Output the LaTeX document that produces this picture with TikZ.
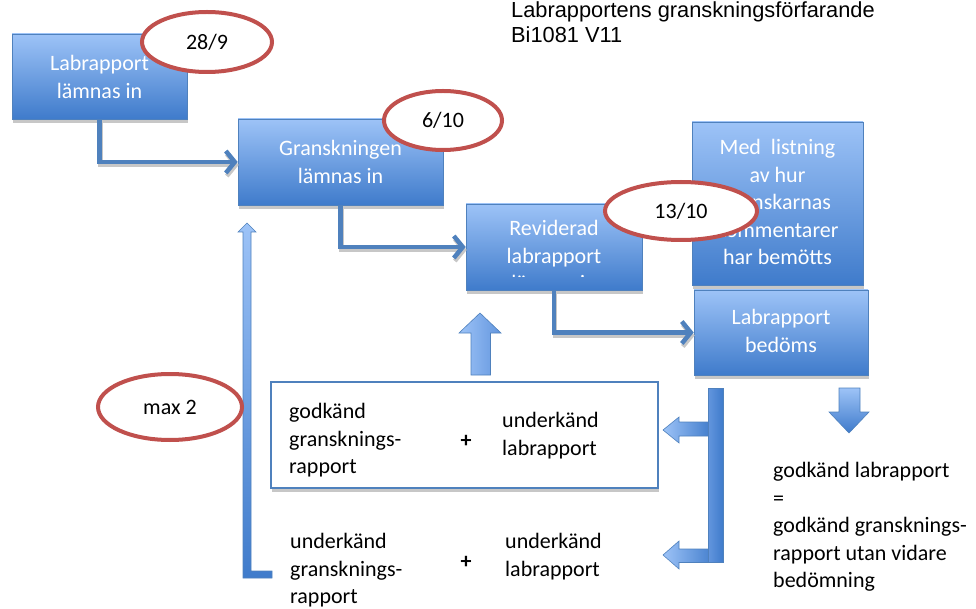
\documentclass[tikz,border=0pt]{standalone}
\usepackage{fontspec}
\setmainfont{Carlito}
\newfontfamily\titlefont{Liberation Sans}
\usetikzlibrary{arrows.meta,shapes.geometric,shadows}
\definecolor{accent}{HTML}{4F81BD}
\definecolor{boxtop}{HTML}{9DC3F7}
\definecolor{boxbot}{HTML}{3F7BCB}
\definecolor{barlight}{HTML}{6396DE}
\definecolor{ovalred}{HTML}{C0504D}
\begin{document}
\begin{tikzpicture}[x=1pt,y=-1pt,
  stepbox/.style={rectangle, draw=accent, line width=0.6pt, top color=boxtop, bottom color=boxbot,
    inner sep=0pt, drop shadow={shadow xshift=1pt,shadow yshift=-4pt,fill=black!22,opacity=1}},
  boxtext/.style={text=white, font=\fontsize{22}{27.5}\selectfont, align=center, inner sep=0pt, anchor=north},
  plaintext/.style={text=black, font=\fontsize{22}{27.5}\selectfont, align=left, inner sep=0pt, anchor=north west},
  oval/.style={ellipse, draw=ovalred, line width=4pt, fill=white, inner sep=0pt,
    font=\fontsize{22}{27}\selectfont},
  conn/.style={draw=accent, line width=4.5pt, line join=miter,
    -{Straight Barb[length=9pt,width=22pt,line width=4.5pt]}},
  connshadow/.style={draw=black!22, line width=4.5pt, line join=miter,
    transform canvas={xshift=1pt,yshift=-3pt},
    -{Straight Barb[length=9pt,width=22pt,line width=4.5pt]}},
  blockarrow/.style={draw=accent, line width=0.6pt},
]
\useasboundingbox (0,0) rectangle (976,609);

% title
\node[font=\titlefont\fontsize{21.8}{25}\selectfont, align=left, inner sep=0pt, anchor=north west]
  (title) at (511,2) {Labrapportens granskningsförfarande\\Bi1081 V11};

% boxes
\node[stepbox, minimum width=175, minimum height=85] (b1) at (99.5,76.5) {};
\node[stepbox, minimum width=205, minimum height=86] (b2) at (340.5,162) {};
\node[stepbox, minimum width=176, minimum height=86] (b3) at (554,247) {};
\node[stepbox, minimum width=171, minimum height=163] (b4) at (777.5,203.5) {};
\node[stepbox, minimum width=174, minimum height=85] (b5) at (781,332.5) {};
\node[rectangle, draw=accent, line width=1.5pt, fill=white, inner sep=0pt,
  minimum width=387, minimum height=106,
  drop shadow={shadow xshift=1pt,shadow yshift=-4pt,fill=black!22,opacity=1}] (b6) at (464.5,435) {};

% box texts
\node[boxtext] (t1) at (99.5,55.5) {Labrapport\\lämnas in};
\node[boxtext] (t2) at (340.5,140.5) {Granskningen\\lämnas in};
\begin{scope}
  \clip (466,204) rectangle (642,277);
  \node[boxtext] (t3) at (554,220.5) {Reviderad\\labrapport\\lämnas in};
\end{scope}
\node[boxtext] (t4) at (777.5,139.5) {Med\ \ listning\\av hur\\granskarnas\\kommentarer\\har bemötts};
\node[boxtext] (t5) at (781,309.5) {Labrapport\\bedöms};

% connectors
\draw[connshadow] (b1.south) |- (b2.west);
\draw[conn] (b1.south) |- (b2.west);
\draw[connshadow] (b2.south) |- (b3.west);
\draw[conn] (b2.south) |- (b3.west);
\draw[connshadow] (b3.south) |- (b5.west);
\draw[conn] (b3.south) |- (b5.west);

% up block arrow under b3
\shadedraw[blockarrow, left color=boxtop, right color=barlight]
  (480,313) -- (501,333) -- (490.5,333) -- (490.5,375) -- (471,375) -- (471,333) -- (459,333) -- cycle;

% down block arrow at right
\shadedraw[blockarrow, top color=boxtop, bottom color=boxbot]
  (839,388) -- (860,388) -- (860,412) -- (869,412) -- (849,433) -- (829,412) -- (839,412) -- cycle;

% right bracket with two arrows
\shadedraw[blockarrow, left color=boxtop, right color=boxbot]
  (663,430) -- (679,417) -- (679,422) -- (712,422) -- (712,436) -- (679,436) -- (679,443) -- cycle;
\shadedraw[blockarrow, left color=boxtop, right color=boxbot]
  (663,555) -- (679,541) -- (679,549) -- (716,549) -- (716,562.5) -- (679,562.5) -- (679,569) -- cycle;
\shadedraw[blockarrow, left color=barlight, right color=boxbot]
  (708,388) rectangle (723,562.5);

% left L-shaped arrow
\shadedraw[blockarrow, top color=boxtop, bottom color=boxbot]
  (247,223) -- (256,232) -- (251,232) -- (251,571) -- (272,571) -- (272,578) -- (243,578)
  -- (243,232) -- (238,232) -- cycle;

% texts in / under the white box
\node[plaintext] (g1) at (289,403.5) {godkänd\\gransknings-\\rapport};
\node[font=\fontsize{22}{27}\selectfont\bfseries, inner sep=0pt] (p1) at (466,441) {+};
\node[plaintext] (u1) at (502,412.5) {underkänd\\labrapport};
\node[plaintext] (g2) at (290,533.5) {underkänd\\gransknings-\\rapport};
\node[font=\fontsize{22}{27}\selectfont\bfseries, inner sep=0pt] (p2) at (466,562) {+};
\node[plaintext] (u2) at (505,533.5) {underkänd\\labrapport};
\node[plaintext] (r1) at (773,462.5) {godkänd labrapport\\=\\godkänd gransknings-\\rapport utan vidare\\bedömning};

% ovals
\node[oval, minimum width=130, minimum height=60] (e1) at (207,42) {28/9};
\node[oval, minimum width=118, minimum height=59] (e2) at (443,120.5) {6/10};
\node[oval, minimum width=152, minimum height=58] (e3) at (681,211) {13/10};
\node[oval, minimum width=144, minimum height=66] (e4) at (170,407) {max 2};
\end{tikzpicture}
\end{document}
